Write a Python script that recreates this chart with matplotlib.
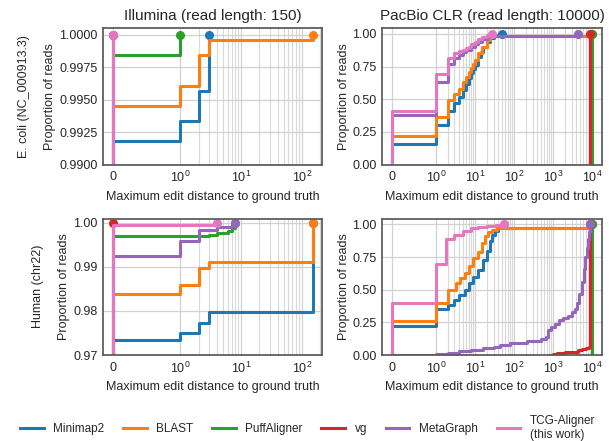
import matplotlib
matplotlib.use('Agg')
import matplotlib.pyplot as plt
import numpy as np
from matplotlib.lines import Line2D
from matplotlib.ticker import MultipleLocator, FormatStrFormatter, SymmetricalLogLocator

plt.rcParams['font.family'] = ['Liberation Sans', 'DejaVu Sans']
plt.rcParams['text.color'] = '0.15'
plt.rcParams['axes.labelcolor'] = '0.15'
plt.rcParams['xtick.color'] = '0.15'
plt.rcParams['ytick.color'] = '0.15'

tools = ['Minimap2', 'BLAST', 'PuffAligner', 'vg', 'MetaGraph', 'TCG-Aligner\n(this work)']
colors = ['#1f77b4', '#ff7f0e', '#2ca02c', '#d62728', '#9467bd', '#e377c2']
row_names = ['E. coli (NC_000913.3)', 'Human (chr22)']
col_titles = ['Illumina (read length: 150)', 'PacBio CLR (read length: 10000)']

# (max edit distance, cumulative proportion of reads) per tool
# E. coli, Illumina
ecoli_ill_x = [
    [0, 1, 2, 3],
    [0, 1, 2, 3, 150],
    [0, 1],
    [0],
    [0],
    [0],
]
ecoli_ill_y = [
    [0.99178, 0.99331, 0.99569, 1.0],
    [0.99451, 0.99604, 0.99842, 0.99957, 1.0],
    [0.99842, 1.0],
    [1.0],
    [1.0],
    [1.0],
]

# E. coli, PacBio CLR
ecoli_pb_x = [
    [0, 1, 2, 3, 4, 5, 6, 7, 8, 9, 10, 12, 14, 16, 20, 25, 30, 40, 50],
    [0, 1, 2, 3, 4, 5, 6, 7, 8, 9, 10, 12, 15, 20, 25, 9800],
    [10000],
    [9000],
    [0, 1, 2, 3, 4, 5, 6, 8, 10, 12, 15, 20, 30, 4500],
    [0, 1, 2, 3, 4, 5, 6, 7, 8, 10, 12, 15, 20, 28],
]
ecoli_pb_y = [
    [0.155, 0.30, 0.41, 0.47, 0.52, 0.57, 0.62, 0.66, 0.70, 0.73, 0.76, 0.82, 0.86, 0.90, 0.94, 0.97, 0.98,
     0.99, 1.0],
    [0.215, 0.365, 0.49, 0.54, 0.58, 0.63, 0.67, 0.71, 0.74, 0.77, 0.80, 0.85, 0.90, 0.95, 0.985, 1.0],
    [1.0],
    [1.0],
    [0.38, 0.63, 0.77, 0.815, 0.84, 0.86, 0.88, 0.90, 0.92, 0.94, 0.96, 0.975, 0.98, 1.0],
    [0.41, 0.69, 0.815, 0.85, 0.87, 0.88, 0.89, 0.90, 0.92, 0.94, 0.96, 0.975, 0.99, 1.0],
]

# Human, Illumina
human_ill_x = [
    [0, 1, 2, 3, 150],
    [0, 1, 2, 3, 150],
    [0, 3, 4, 6, 7, 8],
    [0],
    [0, 1, 2, 4, 7, 8],
    [0, 4],
]
human_ill_y = [
    [0.97342, 0.97508, 0.97736, 0.97986, 1.0],
    [0.98389, 0.98594, 0.98974, 0.99102, 1.0],
    [0.99695, 0.99733, 0.9977, 0.99825, 0.99886, 1.0],
    [1.0],
    [0.99255, 0.99597, 0.99847, 0.99909, 0.99955, 1.0],
    [0.99962, 1.0],
]

# Human, PacBio CLR
human_pb_x = [
    [0, 1, 2, 3, 4, 5.5, 7, 9, 12, 16.5, 20, 24, 28, 33, 40, 9800],
    [0, 1, 2, 3.2, 4.2, 5.5, 7, 9, 12, 15, 18, 22, 28, 37, 9800],
    [10000],
    [870, 1000, 1300, 2000, 3200, 4500, 5400, 7000, 8500, 9000],
    [0, 1, 2, 4, 8, 16, 30, 45, 80, 220, 500, 650, 750, 900, 1100, 1400, 1800, 2400, 3000, 3600, 4100,
     4700, 5500, 6200, 6800, 7400, 7900, 8500, 9000],
    [0, 1, 1.8, 3, 5, 8, 12, 20, 35, 55],
]
human_pb_y = [
    [0.223, 0.35, 0.385, 0.42, 0.46, 0.50, 0.55, 0.60, 0.65, 0.73, 0.80, 0.87, 0.92, 0.95, 0.97, 1.0],
    [0.264, 0.40, 0.50, 0.55, 0.59, 0.63, 0.68, 0.74, 0.79, 0.86, 0.91, 0.94, 0.96, 0.975, 1.0],
    [1.0],
    [0.003, 0.008, 0.018, 0.022, 0.025, 0.035, 0.044, 0.055, 0.065, 1.0],
    [0.002, 0.01, 0.018, 0.027, 0.04, 0.05, 0.065, 0.077, 0.095, 0.11, 0.125, 0.14, 0.19, 0.215, 0.24,
     0.265, 0.285, 0.30, 0.33, 0.355, 0.40, 0.47, 0.56, 0.66, 0.75, 0.82, 0.885, 0.94, 1.0],
    [0.40, 0.70, 0.89, 0.92, 0.95, 0.97, 0.98, 0.99, 0.995, 1.0],
]

panels = [
    [(ecoli_ill_x, ecoli_ill_y), (ecoli_pb_x, ecoli_pb_y)],
    [(human_ill_x, human_ill_y), (human_pb_x, human_pb_y)],
]
ylims = [[(0.99, 1.0005), (0.0, 1.045)], [(0.97, 1.001), (0.0, 1.045)]]
ysteps = [[0.0025, 0.25], [0.01, 0.25]]
yfmts = [['%.4f', '%.2f'], ['%.2f', '%.2f']]

fig, axes = plt.subplots(2, 2, figsize=(6.09, 4.41), dpi=100)
fig.subplots_adjust(left=0.1691, right=0.9885, top=0.9365, bottom=0.195, wspace=0.2733, hspace=0.3956)

for r in range(2):
    for c in range(2):
        ax = axes[r, c]
        xs_all, ys_all = panels[r][c]
        for x, y, col in zip(xs_all, ys_all, colors):
            x = np.asarray(x, dtype=float)
            y = np.asarray(y, dtype=float)
            # start each curve from zero at its first value
            sx = np.concatenate([[x[0]], x])
            sy = np.concatenate([[0.0], y])
            ax.step(sx, sy, where='post', color=col, lw=2.2)
            ax.plot(x[-1], y[-1], 'o', color=col, ms=5.5)

        ax.set_xscale('symlog', linthresh=1)
        ax.xaxis.set_minor_locator(SymmetricalLogLocator(base=10, linthresh=1, subs=np.arange(2, 10)))
        ax.set_ylim(*ylims[r][c])
        ax.yaxis.set_major_locator(MultipleLocator(ysteps[r][c]))
        ax.yaxis.set_major_formatter(FormatStrFormatter(yfmts[r][c]))
        ax.set_axisbelow(True)
        ax.grid(True, which='major', color='0.82', lw=0.9)
        ax.grid(True, which='minor', axis='x', color='0.85', lw=0.8)
        ax.tick_params(which='both', length=0, labelsize=9, pad=4)
        for sp in ax.spines.values():
            sp.set_color('0.35')
            sp.set_linewidth(1.25)

        ax.set_xlabel('Maximum edit distance to ground truth', fontsize=9)
        ax.set_ylabel('Proportion of reads', fontsize=9, labelpad=2)
        if r == 0:
            ax.set_title(col_titles[c], fontsize=11)
        if c == 0:
            ax.annotate(row_names[r], xy=(0.5, 0.5), xycoords=ax.yaxis.label,
                        xytext=(-26, 0), textcoords='offset pixels',
                        rotation=90, ha='center', va='center', fontsize=9)

handles = [Line2D([0], [0], color=col, lw=2.2) for col in colors]
fig.legend(handles, tools, loc='center', bbox_to_anchor=(0.505, 0.03), ncol=6, frameon=False,
           fontsize=8.5, handlelength=2.0, handletextpad=0.8, columnspacing=1.6)

fig.savefig('out.png', dpi=100)
